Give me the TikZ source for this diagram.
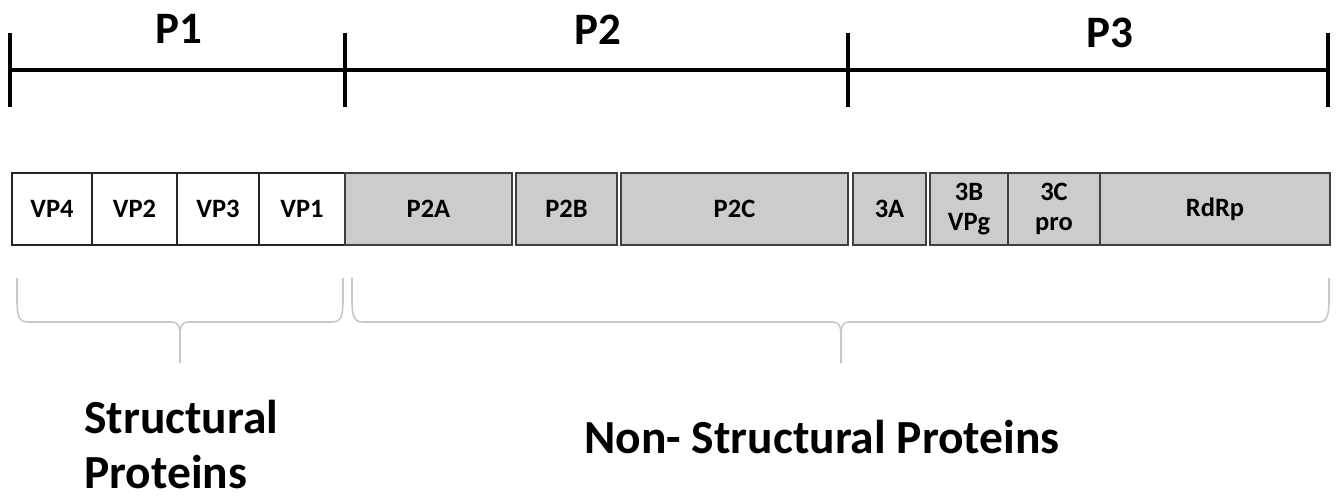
\documentclass[tikz,border=0pt]{standalone}
\usepackage{fontspec}
\setmainfont{Carlito}
\definecolor{segfill}{HTML}{CCCCCC}
\definecolor{segline}{HTML}{404040}
\definecolor{bracecol}{HTML}{C8C8C8}
\newcommand\mybrace[3]{%
  \draw[bracecol, line width=1.6pt, line join=round]
    (#1,278) -- (#1,300) .. controls (#1,318) and (#1+3,322) .. (#1+11,322)
    -- (#3-8,322) .. controls (#3-2,322) and (#3,326) .. (#3,336) -- (#3,363);
  \draw[bracecol, line width=1.6pt, line join=round]
    (#2,278) -- (#2,300) .. controls (#2,318) and (#2-3,322) .. (#2-11,322)
    -- (#3+8,322) .. controls (#3+2,322) and (#3,326) .. (#3,336);
}
\begin{document}
\begin{tikzpicture}[x=1pt,y=-1pt,
  segtext/.style={inner sep=0pt, font=\bfseries\fontsize{26.5}{30}\selectfont, align=center, minimum height=72},
  wseg/.style={segtext, draw=black!85, line width=1.6pt, fill=white},
  gseg/.style={segtext, draw=segline, line width=2pt, fill=segfill},
  bar/.style={line width=4.5pt, black},
  plabel/.style={font=\bfseries\fontsize{45}{50}\selectfont, anchor=base, inner sep=0pt},
  biglabel/.style={font=\bfseries\fontsize{47.5}{55}\selectfont, inner sep=0pt}
]
\useasboundingbox (0,0) rectangle (1341,500);

% polyprotein bar
\coordinate (t0) at (10,70);
\coordinate (t1) at (345,70);
\coordinate (t2) at (848,70);
\coordinate (t3) at (1328,70);
\draw[bar] (t0) -- (t3);
\foreach \t in {t0,t1,t2,t3}
  \draw[bar] ([yshift=37pt]\t) -- ([yshift=-37pt]\t);

\node[plabel] (p1) at (179,44) {P1};
\node[plabel] (p2) at (598,45) {P2};
\node[plabel] (p3) at (1110,48) {P3};

% segments
\node[wseg, minimum width=80]  (vp4) at (52,209) {VP4};
\node[wseg, minimum width=85]  (vp2) at (134.5,209) {VP2};
\node[wseg, minimum width=82]  (vp3) at (218,209) {VP3};
\node[wseg, minimum width=86]  (vp1) at (302,209) {VP1};
\node[gseg, minimum width=167] (p2a) at (428.5,209) {P2A};
\node[gseg, minimum width=101] (p2b) at (566.5,209) {P2B};
\node[gseg, minimum width=227] (p2c) at (734.5,209) {P2C};
\node[gseg, minimum width=73]  (a3)  at (889.5,209) {3A};
\node[gseg, minimum width=78]  (b3)  at (969,209) {3B\\VPg};
\node[gseg, minimum width=92]  (c3)  at (1054,209) {3C\\pro};
\node[gseg, minimum width=230] (rdrp) at (1215,209) {RdRp};

% braces
\mybrace{17}{343}{180}
\mybrace{352}{1329}{841}

\node[biglabel, anchor=base west, align=left] (sp) at (84,488) {Structural\\Proteins};
\node[biglabel, anchor=base] (nsp) at (822,453) {Non- Structural Proteins};
\end{tikzpicture}
\end{document}
